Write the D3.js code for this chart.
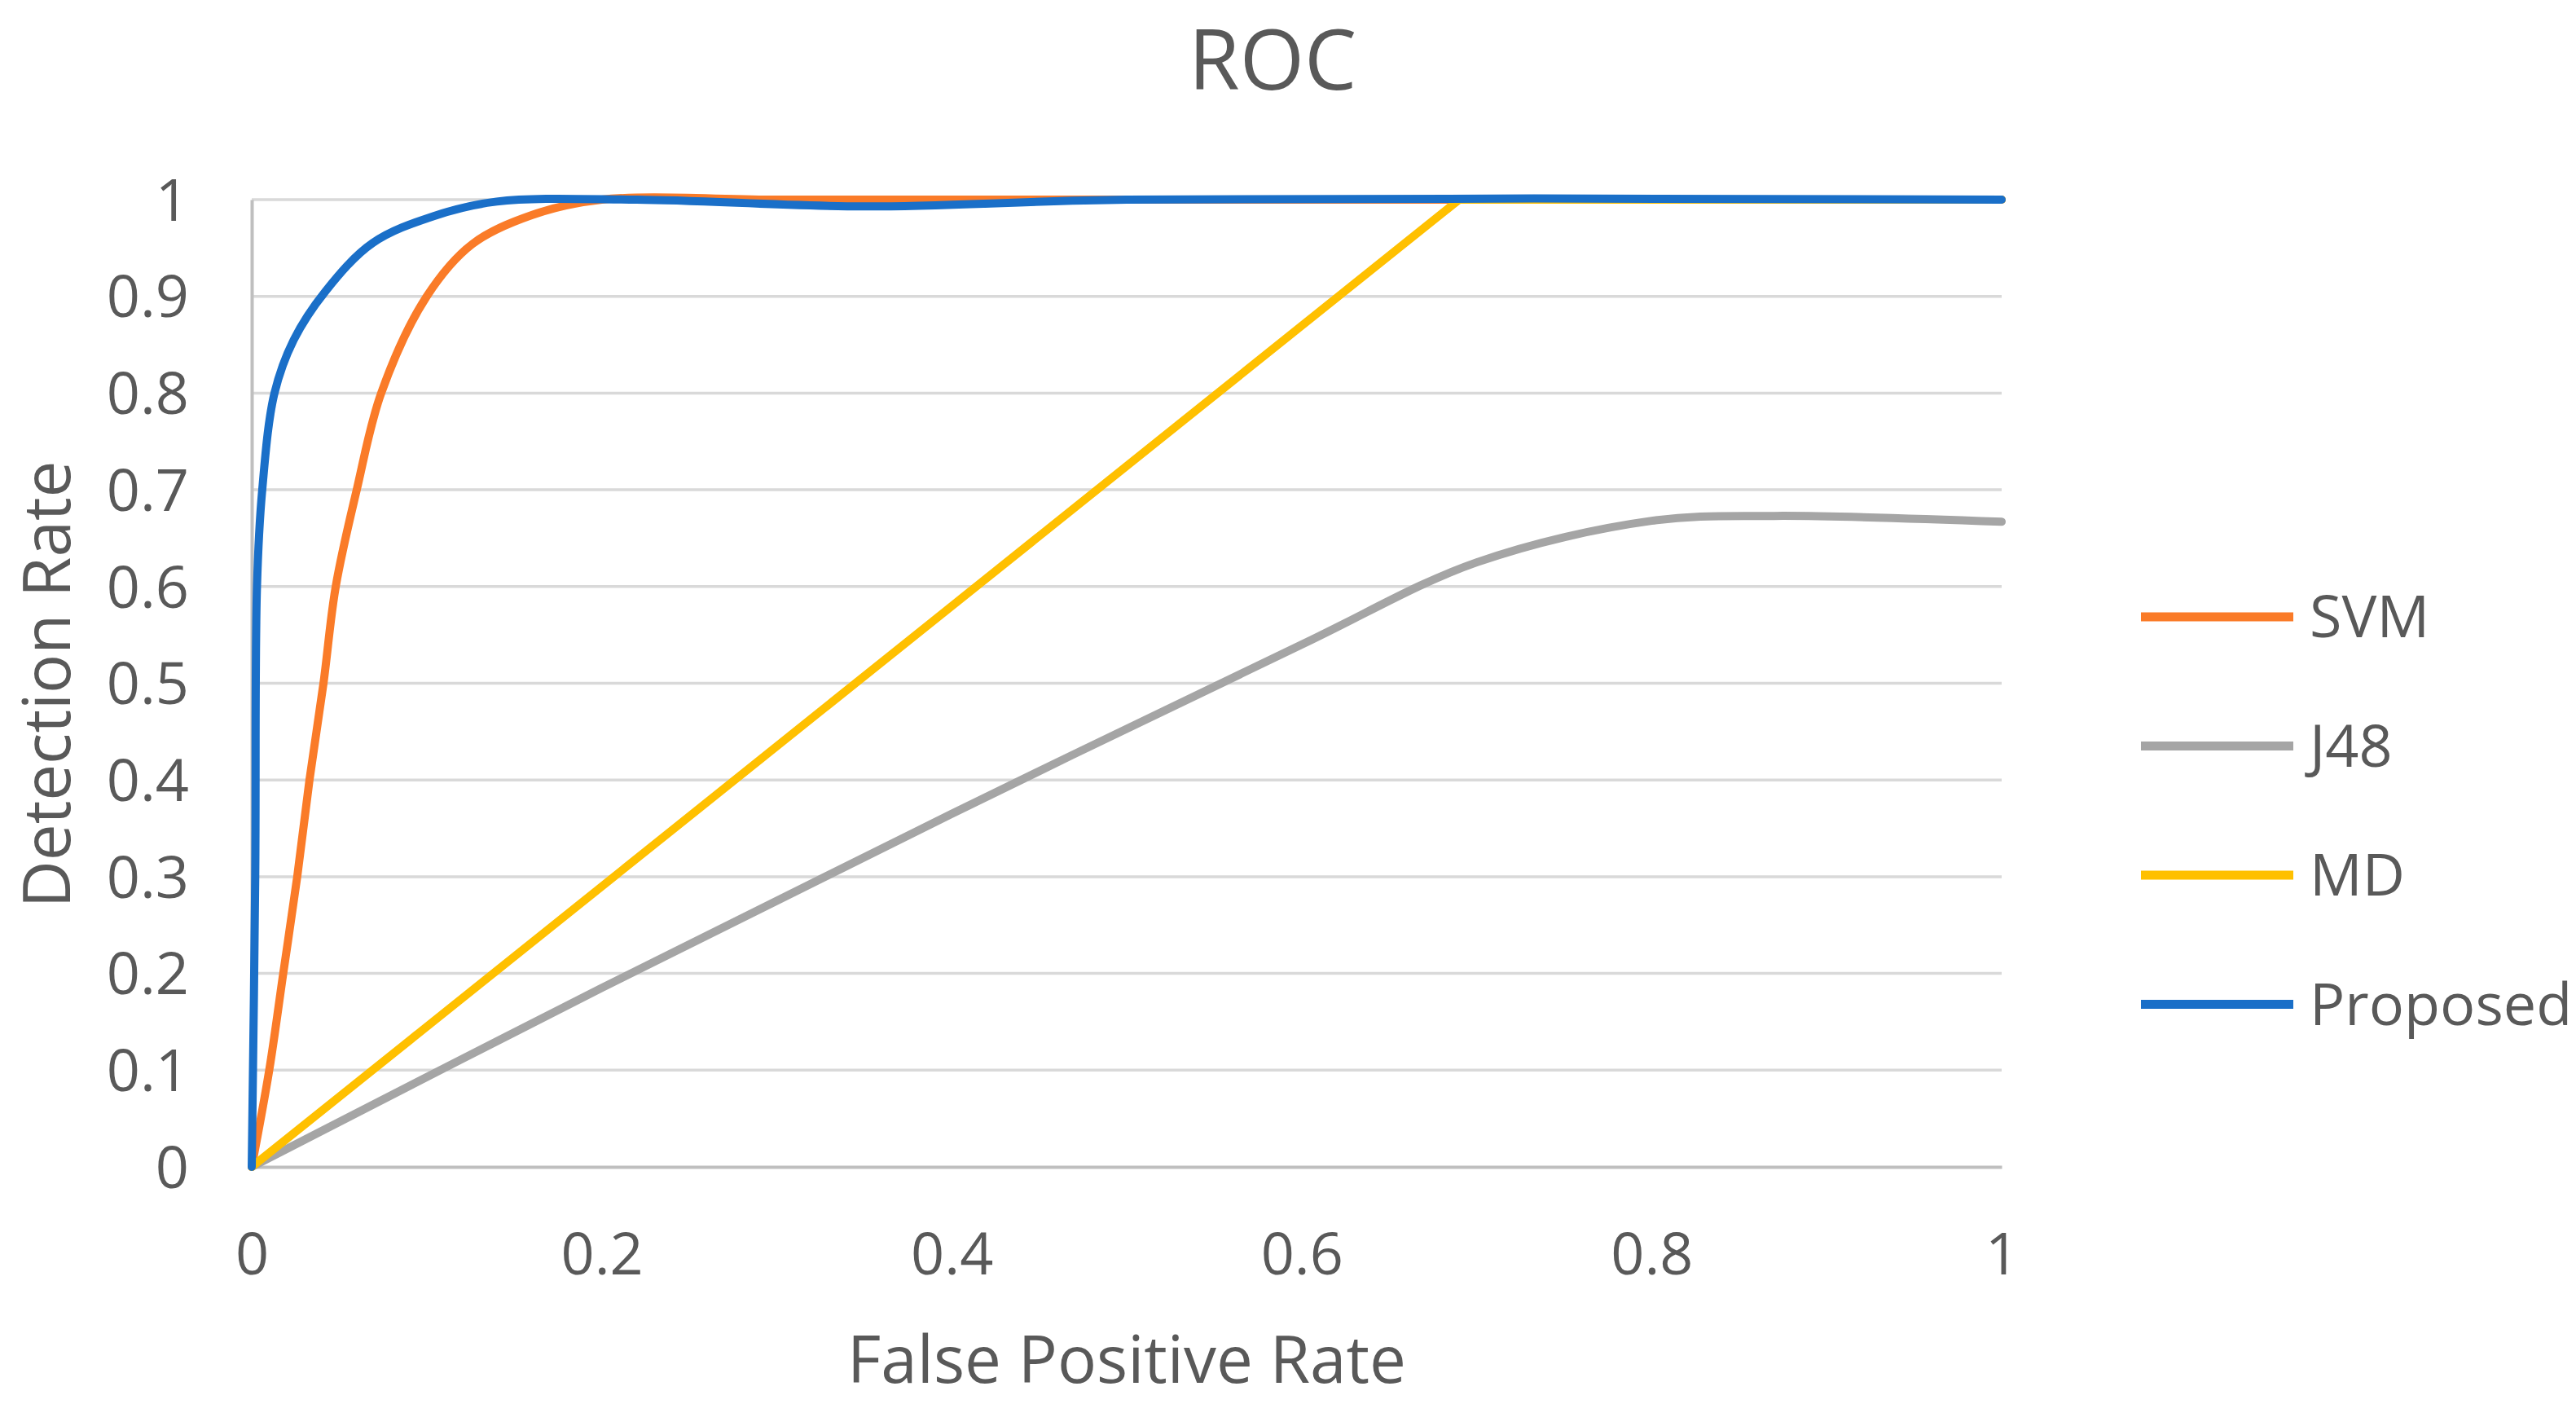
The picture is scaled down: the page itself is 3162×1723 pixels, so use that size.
<!DOCTYPE html>
<html>
<head>
<meta charset="utf-8">
<script src="https://cdn.jsdelivr.net/npm/d3@7"></script>
<style>
  body { margin: 0; background: #fff; }
  text { font-family: "Open Sans", "Noto Sans", sans-serif; fill: #595959; }
</style>
</head>
<body>
<svg id="roc-chart"></svg>
<script>
// Series names and colours (legend order)
const seriesNames = ["SVM", "J48", "MD", "Proposed"];
const seriesColors = ["#fa7b28", "#a5a5a5", "#ffc000", "#1a6fc8"];

// ROC points: [false positive rate, detection rate]
const svmPoints = [[0, 0], [0.01, 0.1], [0.018, 0.2], [0.026, 0.3], [0.033, 0.4], [0.041, 0.5],
  [0.048, 0.6], [0.06, 0.7], [0.074, 0.8], [0.1, 0.9], [0.126, 0.954], [0.16, 0.984],
  [0.2, 1], [0.3, 1], [0.4, 1], [1, 1]];
const j48Points = [[0, 0], [0.2, 0.185], [0.4, 0.365], [0.6, 0.54], [0.7, 0.625],
  [0.8, 0.668], [0.87, 0.673], [1, 0.667]];
const mdPoints = [[0, 0], [0.69, 1], [1, 1]];
const proposedPoints = [[0, 0], [0.002, 0.3], [0.003, 0.6], [0.006, 0.7], [0.013, 0.8],
  [0.024, 0.855], [0.042, 0.905], [0.069, 0.955], [0.104, 0.983], [0.14, 0.998],
  [0.22, 1], [0.35, 0.993], [0.5, 1], [1, 1]];

// Tick values
const xTicks = [0, 0.2, 0.4, 0.6, 0.8, 1];
const yTicks = [0, 0.1, 0.2, 0.3, 0.4, 0.5, 0.6, 0.7, 0.8, 0.9, 1];

const allSeries = [svmPoints, j48Points, mdPoints, proposedPoints];

// SVG dimensions
const W = 3162, H = 1723;
const margin = { top: 245, right: 705, bottom: 291, left: 309 };
const width = W - margin.left - margin.right;
const height = H - margin.top - margin.bottom;

const svg = d3.select("#roc-chart")
  .attr("width", W)
  .attr("height", H);

const g = svg.append("g")
  .attr("transform", "translate(" + margin.left + "," + margin.top + ")");

// Scales
const x = d3.scaleLinear().domain([0, 1]).range([0, width]);
const y = d3.scaleLinear().domain([0, 1]).range([height, 0]);

// Horizontal gridlines
g.append("g")
  .selectAll("line")
  .data(yTicks.filter(d => d > 0))
  .enter().append("line")
  .attr("x1", 0)
  .attr("x2", width)
  .attr("y1", d => y(d))
  .attr("y2", d => y(d))
  .attr("stroke", "#d9d9d9")
  .attr("stroke-width", 3.5);

// Y axis (labels only, plus the vertical axis line)
const yAxis = g.append("g")
  .call(d3.axisLeft(y).tickValues(yTicks).tickSize(0).tickPadding(77).tickFormat(d3.format("~g")));
yAxis.select(".domain").attr("stroke", "#bfbfbf").attr("stroke-width", 4);
yAxis.selectAll("text")
  .style("font-size", "72px")
  .attr("dy", "0.35em");

// X axis
const xAxis = g.append("g")
  .attr("transform", "translate(0," + height + ")")
  .call(d3.axisBottom(x).tickValues(xTicks).tickSize(0).tickFormat(d3.format("~g")));
xAxis.select(".domain").attr("stroke", "#bfbfbf").attr("stroke-width", 4);
xAxis.selectAll("text")
  .style("font-size", "72px")
  .attr("y", 132)
  .attr("dy", 0);

// Lines: smoothed like the spreadsheet, MD is straight segments
const smoothLine = d3.line()
  .x(d => x(d[0]))
  .y(d => y(d[1]))
  .curve(d3.curveCatmullRom.alpha(0.5));
const straightLine = d3.line()
  .x(d => x(d[0]))
  .y(d => y(d[1]));

g.selectAll(".series")
  .data(allSeries)
  .enter().append("path")
  .attr("class", "series")
  .attr("d", (d, i) => i === 2 ? straightLine(d) : smoothLine(d))
  .attr("fill", "none")
  .attr("stroke", (d, i) => seriesColors[i])
  .attr("stroke-width", 10)
  .attr("stroke-linejoin", "round")
  .attr("stroke-linecap", "round");

// Title
svg.append("text")
  .attr("x", 1562)
  .attr("y", 110)
  .attr("text-anchor", "middle")
  .style("font-size", "102px")
  .text("ROC");

// Axis labels
svg.append("text")
  .attr("x", margin.left + width / 2)
  .attr("y", 1697)
  .attr("text-anchor", "middle")
  .style("font-size", "80px")
  .text("False Positive Rate");

svg.append("text")
  .attr("transform", "rotate(-90)")
  .attr("x", -840)
  .attr("y", 86)
  .attr("text-anchor", "middle")
  .style("font-size", "80px")
  .text("Detection Rate");

// Legend
const legend = svg.append("g")
  .attr("transform", "translate(2628,757)");

const legendRow = legend.selectAll("g")
  .data(seriesNames)
  .enter().append("g")
  .attr("transform", (d, i) => "translate(0," + i * 158.5 + ")");

legendRow.append("line")
  .attr("x1", 0)
  .attr("x2", 187)
  .attr("stroke", (d, i) => seriesColors[i])
  .attr("stroke-width", 11);

legendRow.append("text")
  .attr("x", 207)
  .attr("dy", "0.35em")
  .style("font-size", "72px")
  .text(d => d);
</script>
</body>
</html>
